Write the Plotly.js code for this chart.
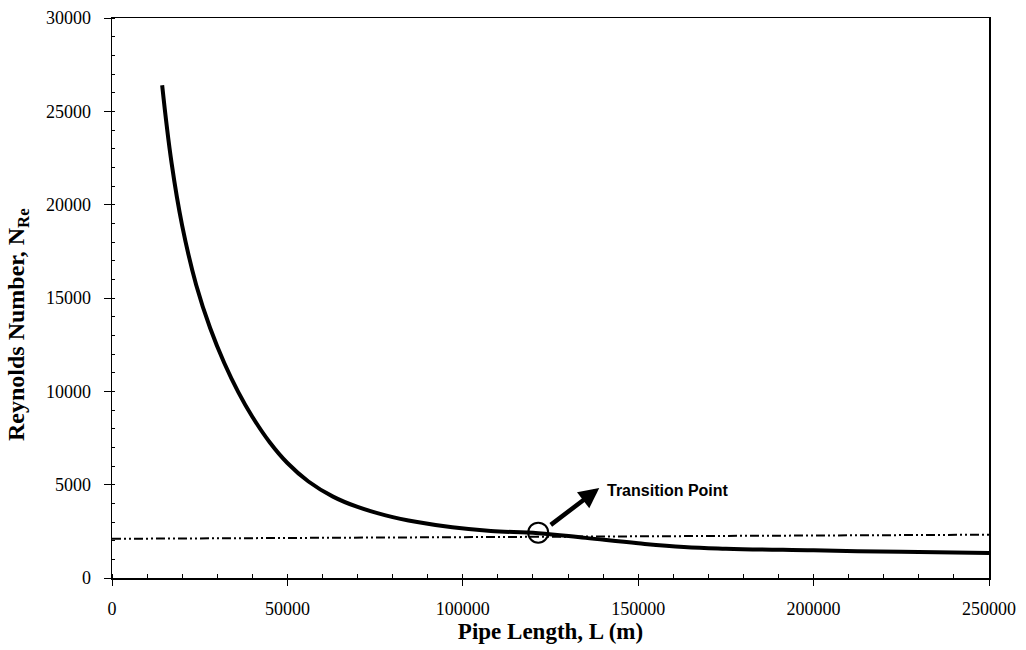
<!DOCTYPE html>
<html>
<head>
<meta charset="utf-8">
<script src="https://cdn.plot.ly/plotly-3.0.1.min.js"></script>
<style>html,body{margin:0;padding:0;background:#fff;}#chart{width:1026px;height:650px;}</style>
</head>
<body>
<div id="chart"></div>
<script>
// Pipe length (m) and Reynolds number
const pipeLength = [14300, 17000, 20000, 24000, 28000, 32000, 36000, 40000, 45000, 50000, 56000, 63000, 70000, 78000, 87000, 97000, 108000, 121500, 135000, 150000, 163000, 175000, 200000, 225000, 250000];
const reynolds   = [26400, 22210, 18880, 15700, 13380, 11520, 9960, 8640, 7260, 6160, 5170, 4360, 3805, 3356, 2995, 2715, 2519, 2403, 2150, 1860, 1660, 1570, 1480, 1400, 1340];

// Laminar/turbulent transition reference line
const transitionLineX = [0, 250000];
const transitionLineY = [2100, 2320];

// Transition point
const transitionX = [121500];
const transitionY = [2430];
const transitionLabel = "Transition Point";

const xTicks = [0, 50000, 100000, 150000, 200000, 250000];
const yTicks = [0, 5000, 10000, 15000, 20000, 25000, 30000];

const xTitle = 'Pipe Length, L (m)';
const yTitle = 'Reynolds Number, N<sub>Re</sub>';

const serif = "Times New Roman";

const traces = [
  {x: transitionLineX, y: transitionLineY, mode: 'lines', type: 'scatter',
   line: {color: '#000', width: 2, dash: '9px,3px,2px,3px,2px,3px'}, hoverinfo: 'skip'},
  {x: pipeLength, y: reynolds, mode: 'lines', type: 'scatter',
   line: {color: '#000', width: 4, shape: 'spline', smoothing: 1.2}},
  {x: transitionX, y: transitionY, mode: 'markers', type: 'scatter',
   marker: {symbol: 'circle-open', size: 20, color: '#000', line: {width: 2, color: '#000'}}}
];

const layout = {
  width: 1026, height: 650,
  margin: {l: 112, r: 37, t: 18, b: 72},
  paper_bgcolor: '#fff', plot_bgcolor: '#fff',
  showlegend: false,
  font: {family: serif, color: '#000', size: 18},
  xaxis: {
    range: [0, 250000], tickvals: xTicks, ticktext: xTicks.map(String),
    showgrid: false, zeroline: false, showline: true, linecolor: '#000', linewidth: 1.5, mirror: true,
    ticks: 'outside', ticklen: 6, tickwidth: 1, tickcolor: '#000', ticklabelstandoff: 8,
    minor: {dtick: 10000, ticks: 'inside', ticklen: 4, tickcolor: '#000', showgrid: false},
    tickfont: {family: serif, size: 18, color: '#000'},
    title: {text: '<b>' + xTitle + '</b>', font: {family: serif, size: 23, color: '#000'}, standoff: 4}
  },
  yaxis: {
    range: [0, 30000], tickvals: yTicks, ticktext: yTicks.map(String),
    showgrid: false, zeroline: false, showline: true, linecolor: '#000', linewidth: 1.5, mirror: true,
    ticks: 'outside', ticklen: 7, tickwidth: 1, tickcolor: '#000', ticklabelstandoff: 9,
    minor: {dtick: 1000, ticks: 'inside', ticklen: 3, tickcolor: '#000', showgrid: false},
    tickfont: {family: serif, size: 18, color: '#000'}
  },
  annotations: [
    {x: -0.107, y: 0.452, xref: 'paper', yref: 'paper', xanchor: 'center', yanchor: 'middle',
     textangle: -90, showarrow: false, text: '<b>' + yTitle + '</b>',
     font: {family: serif, size: 24, color: '#000'}},
    {x: 138900, y: 4820, xref: 'x', yref: 'y', ax: -50, ay: 38, showarrow: true,
     arrowhead: 2, arrowsize: 0.9, arrowwidth: 4.5, arrowcolor: '#000', text: ''},
    {x: 140600, y: 4700, xref: 'x', yref: 'y', xanchor: 'left', yanchor: 'middle', showarrow: false,
     text: '<b>' + transitionLabel + '</b>', font: {family: 'Liberation Sans', size: 16, color: '#000'}}
  ]
};

Plotly.newPlot('chart', traces, layout, {displayModeBar: false, staticPlot: true});
</script>
</body>
</html>
